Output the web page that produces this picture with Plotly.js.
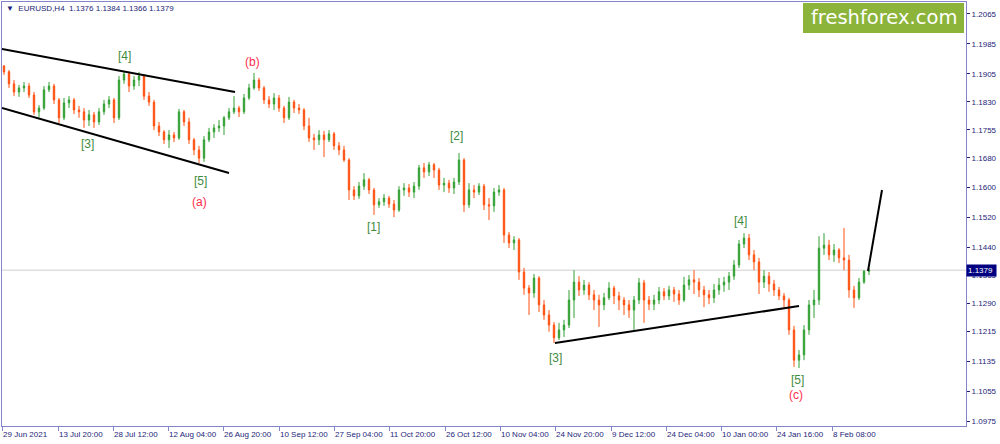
<!DOCTYPE html>
<html>
<head>
<meta charset="utf-8">
<script src="https://cdn.plot.ly/plotly-3.0.1.min.js"></script>
<style>html,body{margin:0;padding:0;background:#fff;}#chart{width:1000px;height:444px;}</style>
</head>
<body>
<div id="chart"></div>
<script>
// EURUSD H4 – candles (one candle per ~6 H4 bars)
const opens = [
1.1926,1.1910,1.1878,1.1856,1.1867,1.1872,1.1848,1.1803,1.1813,1.1862,
1.1872,1.1835,1.1787,1.1827,1.1835,1.1808,1.1803,1.1781,1.1795,1.1776,
1.1803,1.1824,1.1835,1.1787,1.1888,1.1904,1.1872,1.1888,1.1899,1.1845,
1.1829,1.1765,1.1749,1.1728,1.1741,1.1733,1.1803,1.1776,1.1728,1.1701,
1.1679,1.1728,1.1749,1.1760,1.1765,1.1787,1.1803,1.1813,1.1803,1.1840,
1.1867,1.1888,1.1867,1.1835,1.1824,1.1840,1.1813,1.1787,1.1829,1.1813,
1.1808,1.1765,1.1733,1.1728,1.1741,1.1728,1.1744,1.1712,1.1701,1.1674,
1.1594,1.1578,1.1604,1.1621,1.1594,1.1554,1.1562,1.1572,1.1556,1.1540,
1.1594,1.1599,1.1588,1.1604,1.1653,1.1642,1.1661,1.1647,1.1607,1.1612,
1.1599,1.1615,1.1674,1.1554,1.1594,1.1588,1.1604,1.1554,1.1551,1.1588,
1.1594,1.1473,1.1452,1.1460,1.1374,1.1331,1.1318,1.1358,1.1286,1.1259,
1.1232,1.1198,1.1219,1.1232,1.1299,1.1347,1.1326,1.1339,1.1313,1.1299,
1.1286,1.1305,1.1331,1.1310,1.1299,1.1286,1.1272,1.1299,1.1345,1.1299,
1.1288,1.1299,1.1321,1.1310,1.1326,1.1315,1.1299,1.1339,1.1353,1.1347,
1.1326,1.1313,1.1305,1.1326,1.1339,1.1347,1.1363,1.1393,1.1449,1.1465,
1.1420,1.1401,1.1347,1.1363,1.1342,1.1326,1.1310,1.1299,1.1219,1.1138,
1.1152,1.1219,1.1286,1.1299,1.1438,1.1446,1.1420,1.1433,1.1412,1.1406,
1.1326,1.1305,1.1347,1.1376];
const highs = [
1.1928,1.1915,1.1888,1.1875,1.1883,1.1880,1.1856,1.1821,1.1872,1.1883,
1.1878,1.1840,1.1840,1.1845,1.1840,1.1819,1.1813,1.1808,1.1803,1.1813,
1.1835,1.1845,1.1840,1.1899,1.1912,1.1910,1.1899,1.1910,1.1904,1.1856,
1.1835,1.1776,1.1754,1.1754,1.1749,1.1811,1.1808,1.1787,1.1733,1.1712,
1.1738,1.1760,1.1770,1.1781,1.1792,1.1813,1.1845,1.1819,1.1851,1.1878,
1.1907,1.1894,1.1872,1.1845,1.1853,1.1848,1.1819,1.1843,1.1835,1.1824,
1.1813,1.1787,1.1744,1.1754,1.1752,1.1754,1.1749,1.1722,1.1712,1.1679,
1.1604,1.1615,1.1639,1.1626,1.1599,1.1572,1.1583,1.1578,1.1567,1.1604,
1.1612,1.1610,1.1615,1.1661,1.1666,1.1669,1.1666,1.1653,1.1626,1.1621,
1.1626,1.1693,1.1679,1.1612,1.1607,1.1612,1.1610,1.1572,1.1599,1.1607,
1.1599,1.1481,1.1470,1.1465,1.1385,1.1339,1.1369,1.1363,1.1299,1.1272,
1.1240,1.1238,1.1246,1.1326,1.1379,1.1363,1.1353,1.1347,1.1326,1.1313,
1.1318,1.1347,1.1337,1.1321,1.1307,1.1299,1.1310,1.1358,1.1353,1.1310,
1.1313,1.1334,1.1331,1.1337,1.1334,1.1326,1.1361,1.1366,1.1379,1.1358,
1.1337,1.1326,1.1342,1.1358,1.1361,1.1374,1.1406,1.1460,1.1478,1.1476,
1.1433,1.1412,1.1379,1.1374,1.1353,1.1334,1.1318,1.1305,1.1230,1.1165,
1.1232,1.1299,1.1326,1.1470,1.1478,1.1460,1.1449,1.1438,1.1492,1.1420,
1.1337,1.1358,1.1379,1.1384];
const lows = [
1.1902,1.1867,1.1845,1.1843,1.1856,1.1840,1.1795,1.1787,1.1808,1.1856,
1.1824,1.1773,1.1781,1.1813,1.1797,1.1787,1.1760,1.1765,1.1760,1.1768,
1.1795,1.1813,1.1773,1.1781,1.1878,1.1856,1.1862,1.1872,1.1835,1.1819,
1.1754,1.1738,1.1717,1.1706,1.1722,1.1728,1.1765,1.1717,1.1687,1.1666,
1.1669,1.1722,1.1733,1.1749,1.1741,1.1781,1.1797,1.1789,1.1797,1.1835,
1.1862,1.1859,1.1824,1.1813,1.1808,1.1803,1.1773,1.1781,1.1800,1.1797,
1.1754,1.1722,1.1701,1.1714,1.1682,1.1722,1.1701,1.1687,1.1669,1.1567,
1.1567,1.1570,1.1594,1.1583,1.1527,1.1546,1.1551,1.1546,1.1521,1.1535,
1.1578,1.1575,1.1572,1.1594,1.1626,1.1631,1.1626,1.1594,1.1588,1.1586,
1.1583,1.1607,1.1535,1.1546,1.1572,1.1580,1.1540,1.1513,1.1535,1.1578,
1.1452,1.1438,1.1433,1.1353,1.1313,1.1259,1.1305,1.1267,1.1246,1.1214,
1.1184,1.1192,1.1200,1.1224,1.1251,1.1310,1.1313,1.1299,1.1272,1.1227,
1.1272,1.1299,1.1288,1.1272,1.1259,1.1251,1.1219,1.1288,1.1238,1.1272,
1.1272,1.1288,1.1299,1.1299,1.1294,1.1286,1.1294,1.1326,1.1315,1.1307,
1.1280,1.1288,1.1291,1.1313,1.1321,1.1326,1.1353,1.1385,1.1438,1.1406,
1.1379,1.1315,1.1331,1.1321,1.1310,1.1299,1.1280,1.1206,1.1120,1.1117,
1.1138,1.1206,1.1251,1.1286,1.1420,1.1406,1.1401,1.1398,1.1379,1.1305,
1.1278,1.1299,1.1342,1.1366];
const closes = [
1.1910,1.1878,1.1856,1.1867,1.1872,1.1848,1.1803,1.1813,1.1862,1.1872,
1.1835,1.1787,1.1827,1.1835,1.1808,1.1803,1.1781,1.1795,1.1776,1.1803,
1.1824,1.1835,1.1787,1.1888,1.1904,1.1872,1.1888,1.1899,1.1845,1.1829,
1.1765,1.1749,1.1728,1.1741,1.1733,1.1803,1.1776,1.1728,1.1701,1.1679,
1.1728,1.1749,1.1760,1.1765,1.1787,1.1803,1.1813,1.1803,1.1840,1.1867,
1.1888,1.1867,1.1835,1.1824,1.1840,1.1813,1.1787,1.1829,1.1813,1.1808,
1.1765,1.1733,1.1728,1.1741,1.1728,1.1744,1.1712,1.1701,1.1674,1.1594,
1.1578,1.1604,1.1621,1.1594,1.1554,1.1562,1.1572,1.1556,1.1540,1.1594,
1.1599,1.1588,1.1604,1.1653,1.1642,1.1661,1.1647,1.1607,1.1612,1.1599,
1.1615,1.1674,1.1554,1.1594,1.1588,1.1604,1.1554,1.1551,1.1588,1.1594,
1.1473,1.1452,1.1460,1.1374,1.1331,1.1318,1.1358,1.1286,1.1259,1.1232,
1.1198,1.1219,1.1232,1.1299,1.1347,1.1326,1.1339,1.1313,1.1299,1.1286,
1.1305,1.1331,1.1310,1.1299,1.1286,1.1272,1.1299,1.1345,1.1299,1.1288,
1.1299,1.1321,1.1310,1.1326,1.1315,1.1299,1.1339,1.1353,1.1347,1.1326,
1.1313,1.1305,1.1326,1.1339,1.1347,1.1363,1.1393,1.1449,1.1465,1.1420,
1.1401,1.1347,1.1363,1.1342,1.1326,1.1310,1.1299,1.1219,1.1138,1.1152,
1.1219,1.1286,1.1299,1.1438,1.1446,1.1420,1.1433,1.1412,1.1406,1.1326,
1.1305,1.1347,1.1376,1.1379];

// time-axis labels and the candle index each one falls on
const tickLabels = ["29 Jun 2021","13 Jul 20:00","28 Jul 12:00","12 Aug 04:00","26 Aug 20:00",
  "10 Sep 12:00","27 Sep 04:00","11 Oct 20:00","26 Oct 12:00","10 Nov 04:00","24 Nov 20:00",
  "9 Dec 12:00","24 Dec 04:00","10 Jan 00:00","24 Jan 16:00","8 Feb 08:00"];
const tickIdx = [-0.38,10.8,21.8,32.8,43.8,55.0,66.0,77.0,88.2,99.2,110.2,121.4,132.4,143.4,154.4,165.6];

const priceTicks = [1.2065,1.1985,1.1905,1.1830,1.1755,1.1680,1.1600,1.1520,1.1440,1.1365,1.1290,1.1215,1.1135,1.1055,1.0975];
const lastPrice = 1.1379;
const symbol = "EURUSD,H4";
const lastBar = [1.1376,1.1384,1.1366,1.1379];

// Elliott-wave labels: [text, candle index, price, colour group]
const waveLabels = [
  ["[4]",24,1.1953,"g"],["[3]",16.6,1.1717,"g"],["[5]",39.2,1.1618,"g"],["(a)",39,1.1561,"r"],
  ["(b)",49.6,1.1937,"r"],["[1]",73.8,1.1495,"g"],["[2]",90.4,1.1738,"g"],["[3]",110.2,1.1144,"g"],
  ["[4]",147.2,1.1511,"g"],["[5]",158.6,1.1085,"g"],["(c)",158.4,1.1045,"r"]
];
// drawn trend lines: [idx0, price0, idx1, price1]
const trendLines = [
  [-0.4,1.19713,46.2,1.18561],
  [-0.4,1.18133,45,1.16392],
  [110.2,1.11839,159,1.12830],
  [172.8,1.13768,175.6,1.15937]
];

const xIdx = closes.map((_, i) => i);
const navy = "#1e1e78";
const frame = "#8484cc";

const trace = {
  type: "candlestick",
  x: xIdx, open: opens, high: highs, low: lows, close: closes,
  increasing: {line: {color: "#33a033", width: 1}, fillcolor: "#33a033"},
  decreasing: {line: {color: "#ff5010", width: 1}, fillcolor: "#ff5010"},
  whiskerwidth: 0, hoverinfo: "skip", showlegend: false
};

const L = 2, R = 34, T = 2, B = 18, W = 1000, H = 444;
const pw = W - L - R, ph = H - T - B;
const px = v => (v - L) / pw;
const py = v => (H - B - v) / ph;

const shapes = [
  {type: "line", xref: "paper", yref: "y", x0: 0, x1: 1, y0: lastPrice, y1: lastPrice,
   line: {color: "#cfcfcf", width: 1}, layer: "below"},
  ...trendLines.map(t => ({type: "line", xref: "x", yref: "y", x0: t[0], y0: t[1], x1: t[2], y1: t[3],
   line: {color: "#000", width: 2}})),
  {type: "rect", xref: "paper", yref: "paper", x0: px(803), x1: px(964), y0: py(33), y1: py(3),
   fillcolor: "#8cb43a", line: {width: 0}}
];

const annotations = [
  ...waveLabels.map(w => ({xref: "x", yref: "y", x: w[1], y: w[2], text: w[0], showarrow: false,
    xanchor: "center", yanchor: "middle",
    font: {family: "Liberation Sans", size: 12, color: w[3] === "g" ? "#3f8c3f" : "#ff2d4d"}})),
  {xref: "paper", yref: "paper", x: px(883.5), y: py(18), xanchor: "center", yanchor: "middle",
   text: "freshforex.com", showarrow: false,
   font: {family: "DejaVu Sans", size: 19.5, color: "#ffffff"}},
  {xref: "paper", yref: "paper", x: px(4), y: py(8), xanchor: "left", yanchor: "middle",
   text: "▼  " + symbol + "  " + lastBar.map(v => v.toFixed(4)).join(" "), showarrow: false,
   font: {family: "Liberation Sans", size: 8, color: navy}},
  {xref: "paper", yref: "y", x: 1, y: lastPrice, xanchor: "left", yanchor: "middle",
   text: lastPrice.toFixed(4) + " ", showarrow: false, bgcolor: "#000080", borderpad: 1,
   font: {family: "Liberation Sans", size: 8, color: "#ffffff"}}
];

const layout = {
  width: W, height: H,
  margin: {l: L, r: R, t: T, b: B},
  paper_bgcolor: "#fff", plot_bgcolor: "#fff",
  font: {family: "Liberation Sans", size: 8, color: navy},
  showlegend: false,
  boxgap: 0.6,
  xaxis: {range: [-0.4, 192.4], showgrid: false, zeroline: false,
    rangeslider: {visible: false}, tickvals: tickIdx, ticktext: tickLabels,
    tickangle: 0, ticks: "outside", ticklen: 4, tickcolor: frame, ticklabelposition: "outside right",
    showline: true, mirror: true, linecolor: frame, linewidth: 1,
    tickfont: {family: "Liberation Sans", size: 8, color: navy}},
  yaxis: {range: [1.09617, 1.20971], side: "right", showgrid: false, zeroline: false,
    tickvals: priceTicks, ticktext: priceTicks.map(v => v.toFixed(4)),
    ticks: "outside", ticklen: 3, tickcolor: navy,
    showline: true, mirror: true, linecolor: frame, linewidth: 1,
    tickfont: {family: "Liberation Sans", size: 8, color: navy}},
  shapes: shapes, annotations: annotations
};

Plotly.newPlot("chart", [trace], layout, {staticPlot: true, displayModeBar: false});
</script>
</body>
</html>
